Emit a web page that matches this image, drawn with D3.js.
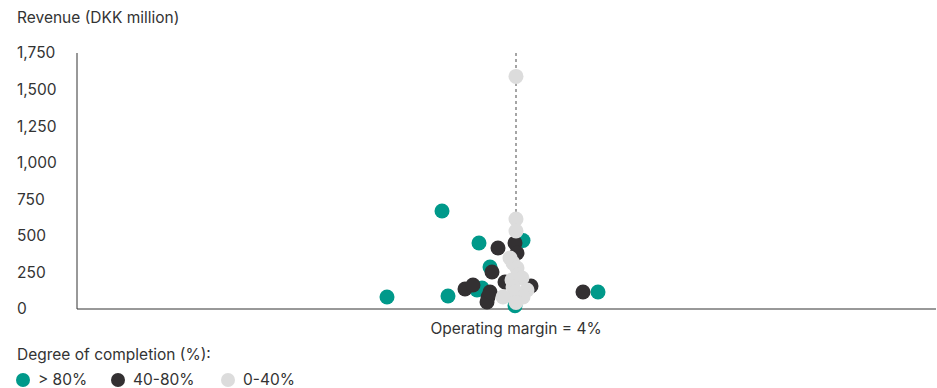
<!DOCTYPE html>
<html>
<head>
<meta charset="utf-8">
<script src="https://cdn.jsdelivr.net/npm/d3@7"></script>
<style>
  body { margin: 0; background: #fff; }
  svg text { font-family: Inter, "Open Sans", sans-serif; fill: #333; font-size: 15.5px; }
</style>
</head>
<body>
<svg id="chart" width="937" height="388"></svg>
<script>
// operating margin (%) and revenue (DKK million), one pair of arrays per group
var highMargin = [-8.9, -3.4, -2.8, 0.3, 4.7, 1.4, 0.1, 0.6, 12.2, 3.9];
var highRevenue = [82, 670, 89, 451, 468, 287, 130, 144, 116, 22];

var midMargin = [10.7, 2.2, 3.9, 4.1, 1.6, 5.5, 2.9, -1.1, -0.3, 1.2, 1.1, 1.4];
var midRevenue = [116, 417, 451, 383, 253, 157, 185, 137, 164, 82, 48, 116];

var lowMargin = [4.0, 4.0, 4.0, 3.4, 3.7, 4.1, 4.2, 3.6, 4.6, 3.7, 3.9, 5.1, 2.7, 4.7, 4.0];
var lowRevenue = [1590, 615, 533, 349, 314, 280, 232, 198, 212, 150, 116, 130, 82, 82, 45];

var groupNames = ["> 80%", "40-80%", "0-40%"];
var groupColors = ["#00998a", "#333032", "#dcdcdc"];
var yTicks = [0, 250, 500, 750, 1000, 1250, 1500, 1750];
var marginLine = 4;

var svg = d3.select("#chart");

var x = d3.scaleLinear().domain([-39.9, 46]).range([77, 936]);
var y = d3.scaleLinear().domain([0, 1750]).range([309, 53]);

// title
svg.append("text").attr("x", 17).attr("y", 23)
    .text("Revenue (DKK million)");

// y tick labels
svg.selectAll(".ytick").data(yTicks).join("text")
    .attr("class", "ytick")
    .attr("x", 17)
    .attr("y", d => y(d))
    .attr("dy", "0.35em")
    .text(d => d3.format(",")(d));

// axes lines
svg.append("line").attr("x1", 77).attr("x2", 77).attr("y1", y(1750)).attr("y2", y(0))
    .attr("stroke", "#333").attr("stroke-width", 1);
svg.append("line").attr("x1", 77).attr("x2", 936).attr("y1", y(0)).attr("y2", y(0))
    .attr("stroke", "#333").attr("stroke-width", 1);

// dashed reference line at margin = 4%
svg.append("line")
    .attr("x1", x(marginLine)).attr("x2", x(marginLine))
    .attr("y1", y(1750)).attr("y2", y(0))
    .attr("stroke", "#888").attr("stroke-width", 1.5)
    .attr("stroke-dasharray", "3,3");

svg.append("text").attr("x", x(marginLine)).attr("y", 334)
    .attr("text-anchor", "middle")
    .text("Operating margin = " + marginLine + "%");

// points
var groups = [
    d3.zip(highMargin, highRevenue),
    d3.zip(midMargin, midRevenue),
    d3.zip(lowMargin, lowRevenue)
];

groups.forEach((pts, i) => {
    svg.append("g").selectAll("circle").data(pts).join("circle")
        .attr("cx", d => x(d[0]))
        .attr("cy", d => y(d[1]))
        .attr("r", 7.5)
        .attr("fill", groupColors[i]);
});

// legend
svg.append("text").attr("x", 17).attr("y", 360)
    .text("Degree of completion (%):");

var legendX = [23, 118, 228];
groupNames.forEach((name, i) => {
    svg.append("circle").attr("cx", legendX[i]).attr("cy", 380).attr("r", 7)
        .attr("fill", groupColors[i]);
    svg.append("text").attr("x", legendX[i] + 15).attr("y", 380)
        .attr("dy", "0.35em")
        .text(name);
});
</script>
</body>
</html>
